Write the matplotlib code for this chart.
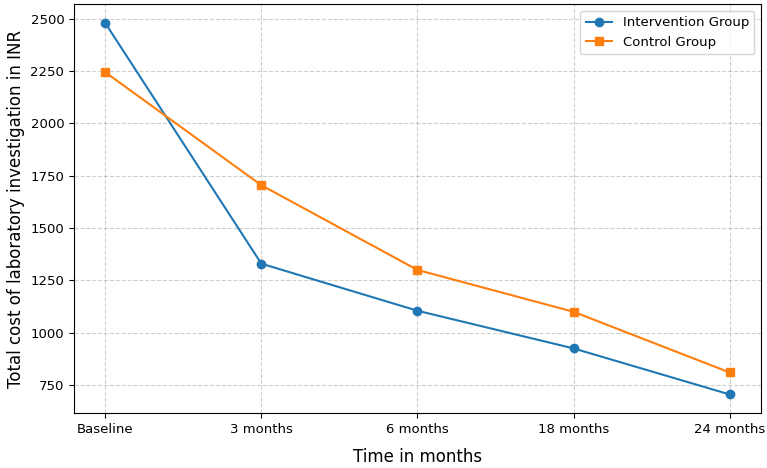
import matplotlib
matplotlib.use('Agg')
import matplotlib.pyplot as plt

timepoints = ['Baseline', '3 months', '6 months', '18 months', '24 months']
intervention = [2480, 1330, 1105, 925, 705]
control = [2245, 1705, 1300, 1100, 810]

fig = plt.figure(figsize=(7.67, 4.68), dpi=100)
ax = fig.add_axes([0.0965, 0.1175, 0.8955, 0.873])

ax.plot(timepoints, intervention, marker='o', color='#1f77b4', label='Intervention Group')
ax.plot(timepoints, control, marker='s', color='#ff7f0e', label='Control Group')

ax.set_yticks([750, 1000, 1250, 1500, 1750, 2000, 2250, 2500])
ax.set_xlabel('Time in months', fontsize=12, labelpad=9)
ax.set_ylabel('Total cost of laboratory investigation in INR', fontsize=12)
ax.tick_params(labelsize=9.5)
ax.grid(True, linestyle='--', alpha=0.6)
ax.legend(loc='upper right', fontsize=9.5)

fig.savefig('out.png', dpi=100)
